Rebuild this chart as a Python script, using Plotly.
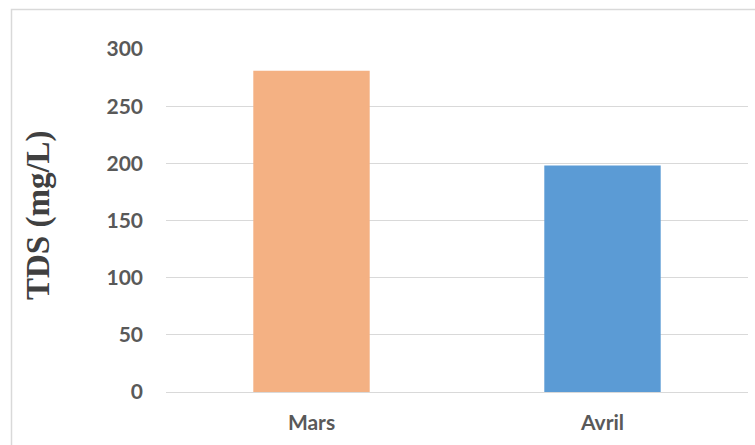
import plotly.graph_objects as go

# TDS measurements per month
months = ["Mars", "Avril"]
tds_values = [281, 198]
bar_colors = ["#F4B183", "#5B9BD5"]
y_ticks = [0, 50, 100, 150, 200, 250, 300]

W, H = 755, 445
L, R, T, B = 166, 7, 49, 53
pw, ph = W - L - R, H - T - B

tick_font = dict(size=21, family="Lato", color="#595959", weight="bold")

fig = go.Figure(
    go.Bar(
        x=months,
        y=tds_values,
        marker=dict(color=bar_colors, line=dict(width=0)),
        width=0.4,
    )
)

fig.update_layout(
    width=W,
    height=H,
    margin=dict(l=L, r=R, t=T, b=B, autoexpand=False),
    paper_bgcolor="white",
    plot_bgcolor="white",
    showlegend=False,
    font=dict(family="Lato", color="#595959"),
)

fig.update_xaxes(
    showgrid=False,
    showline=False,
    ticks="",
    tickfont=tick_font,
    ticklabelstandoff=16,
)

fig.update_yaxes(
    range=[0, 300],
    tickvals=y_ticks,
    showgrid=True,
    gridcolor="#D9D9D9",
    gridwidth=1.2,
    zeroline=True,
    zerolinecolor="#D9D9D9",
    zerolinewidth=1.2,
    showline=False,
    ticks="",
    tickfont=tick_font,
    ticklabelstandoff=22,
)

# Axis title
fig.add_annotation(
    text="<b>TDS (mg/L)</b>",
    xref="paper",
    yref="paper",
    x=(38 - L) / pw,
    y=(H - B - 215) / ph,
    xanchor="center",
    yanchor="middle",
    textangle=-90,
    showarrow=False,
    font=dict(family="Liberation Serif", size=33, color="#404040"),
)

# Chart frame (left and top edges visible)
x_left = (11.5 - L) / pw
y_top = (H - B - 9.5) / ph
x_right = (W + 5 - L) / pw
y_bottom = (H - B - (H + 5)) / ph
fig.add_shape(
    type="rect",
    xref="paper",
    yref="paper",
    x0=x_left,
    x1=x_right,
    y0=y_bottom,
    y1=y_top,
    line=dict(color="#D9D9D9", width=1.5),
    fillcolor="rgba(0,0,0,0)",
    layer="below",
)

fig.write_html("out.html")
